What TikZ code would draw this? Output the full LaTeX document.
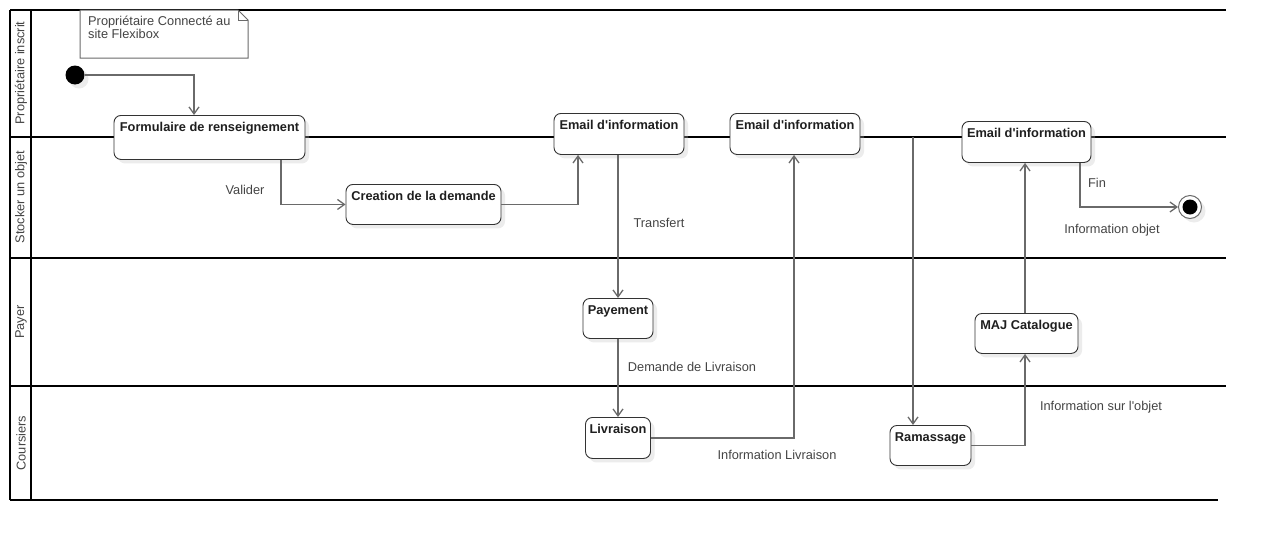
\documentclass[tikz,border=0pt]{standalone}
\usepackage{fontspec}
\setmainfont{Liberation Sans}
\usetikzlibrary{arrows.meta,shadows}
\definecolor{flowgray}{HTML}{6A6A6A}
\definecolor{boxline}{HTML}{333333}
\definecolor{labelgray}{HTML}{444444}
\tikzset{
  lane/.style={draw=black, line width=1.7pt},
  lanetitle/.style={rotate=90, text=labelgray, font=\fontsize{12.8}{14}\selectfont, inner sep=0pt},
  action/.style={draw=boxline, line width=0.9pt, fill=white, rounded corners=7pt, anchor=north,
    inner xsep=2pt, inner ysep=3pt, text height=13.5pt, text depth=21.5pt, text=black!88,
    font=\fontsize{12.8}{14}\selectfont\bfseries,
    drop shadow={shadow xshift=4pt, shadow yshift=-4pt, fill=black!25, opacity=0.3}},
  flow/.style={draw=flowgray, line width=1.3pt, -{Straight Barb[length=7pt,width=10pt]}},
  lbl/.style={text=labelgray, font=\fontsize{12.8}{14}\selectfont, inner sep=0pt},
  notebox/.style={draw=flowgray, line width=1pt, fill=white}
}
\begin{document}
\begin{tikzpicture}[x=1pt,y=-1pt]
  \useasboundingbox (0,0) rectangle (1266,541);
  % swimlanes
  \draw[lane] (10,10) -- (1226,10);
  \foreach \y in {137,258,386}
    \draw[lane] (10,\y) -- (1226,\y);
  \draw[lane] (10,500) -- (1218,500);
  \draw[lane] (10,10) -- (10,500) (31,10) -- (31,500);
  \node[lanetitle] (l1) at (21,73) {Propriétaire inscrit};
  \node[lanetitle] (l2) at (21,197) {Stocker un objet};
  \node[lanetitle] (l3) at (21,322) {Payer};
  \node[lanetitle] (l4) at (21,443) {Coursiers};

  % note
  \draw[notebox] (80,10) -- (238,10) -- (248,20) -- (248,58) -- (80,58) -- cycle;
  \draw[flowgray, line width=1pt] (238,10) -- (238,20) -- (248,20);
  \node[lbl, anchor=north west, align=left, font=\fontsize{12.8}{13}\selectfont] (note) at (88,15.5)
    {Propriétaire Connecté au\\site Flexibox};

  % actions
  \node[circle, fill=black, minimum size=19pt, inner sep=0pt,
    drop shadow={shadow xshift=4pt, shadow yshift=-4pt, fill=black!25, opacity=0.3}] (start) at (75,75) {};
  \node[action, minimum width=191pt, text depth=24.5pt] (form) at (209.5,115) {Formulaire de renseignement};
  \node[action, minimum width=155pt, text depth=20.5pt] (crea) at (423.5,184) {Creation de la demande};
  \node[action, minimum width=130pt] (mail1) at (619,113) {Email d\textquotesingle information};
  \node[action, minimum width=130pt] (mail2) at (795,113) {Email d\textquotesingle information};
  \node[action, minimum width=129pt] (mail3) at (1026.5,121) {Email d\textquotesingle information};
  \node[action, minimum width=70pt, text depth=20.5pt] (paye) at (618,298) {Payement};
  \node[action, minimum width=65pt] (livr) at (618,417) {Livraison};
  \node[action, minimum width=81pt, text depth=20.5pt] (ramas) at (930.5,425) {Ramassage};
  \node[action, minimum width=103pt, text depth=20.5pt] (maj) at (1026.5,313) {MAJ Catalogue};
  \node[circle, draw=flowgray, line width=1pt, fill=white, minimum size=23pt, inner sep=0pt,
    drop shadow={shadow xshift=4pt, shadow yshift=-4pt, fill=black!25, opacity=0.3}] (end) at (1190,207) {};
  \node[circle, fill=black, minimum size=15pt, inner sep=0pt] (endin) at (end) {};
  \coordinate (fork) at (913,137);

  % flows
  \draw[flow] (start) -| ([xshift=-15.5pt]form.north);
  \draw[flow] ([xshift=71.5pt]form.south) |- (crea.west);
  \draw[flow] (crea.east) -| ([xshift=-41pt]mail1.south);
  \draw[flow] (paye.north |- mail1.south) -- (paye.north);
  \draw[flow] (paye.south) -- (livr.north);
  \draw[flow] (livr.east) -| ([xshift=-1pt]mail2.south);
  \draw[flow] (fork) -- (fork |- ramas.north);
  \draw[flow] (ramas.east) -| ([xshift=-1.5pt]maj.south);
  \draw[flow] ([xshift=-1.5pt]maj.north) -- ([xshift=-1.5pt]mail3.south);
  \draw[flow] ([xshift=53.5pt]mail3.south) |- (end.west);

  % labels
  \node[lbl] (t1) at (245,190) {Valider};
  \node[lbl] (t2) at (659,223) {Transfert};
  \node[lbl] (t3) at (692,367) {Demande de Livraison};
  \node[lbl] (t4) at (777,455) {Information Livraison};
  \node[lbl] (t5) at (1101,407) {Information sur l\textquotesingle objet};
  \node[lbl] (t6) at (1097,183) {Fin};
  \node[lbl] (t7) at (1112,230) {Information objet};
\end{tikzpicture}
\end{document}
